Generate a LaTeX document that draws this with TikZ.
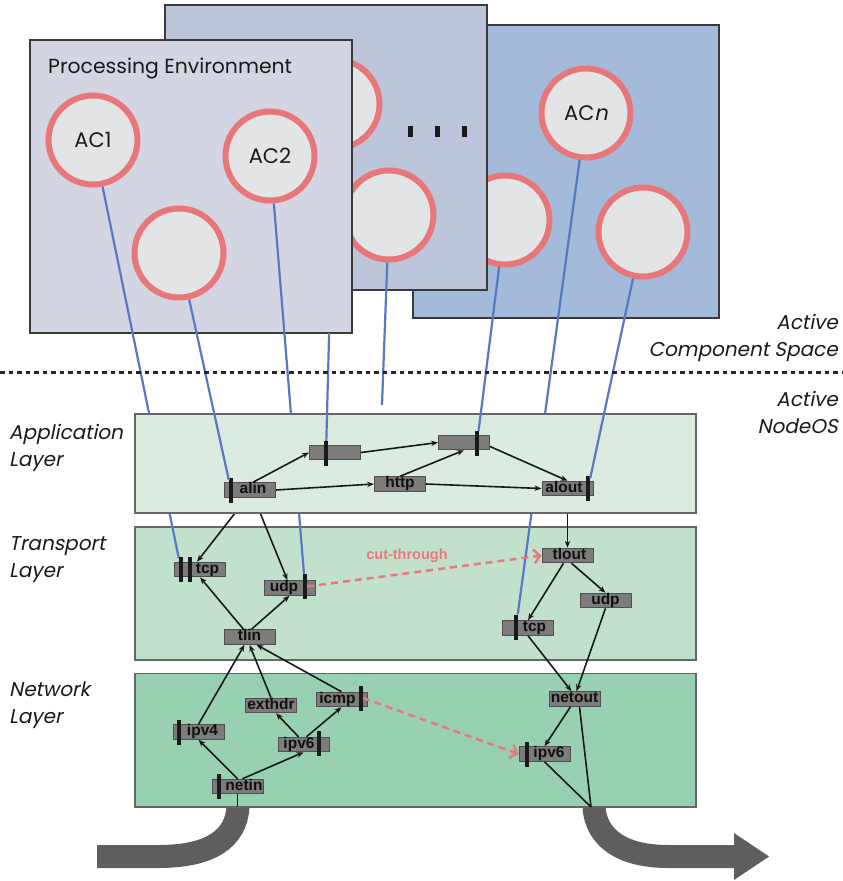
\documentclass[tikz,border=0pt]{standalone}
\usepackage{fontspec}
\setmainfont{Poppins}
\newfontfamily\modfont{Liberation Sans}
\newfontfamily\slfont[FakeSlant=0.2]{Poppins}
\usetikzlibrary{arrows.meta,calc}
\definecolor{panelF}{HTML}{D3D6E2}
\definecolor{panelM}{HTML}{BCC5DA}
\definecolor{panelR}{HTML}{A4BADB}
\definecolor{acring}{HTML}{E8777A}
\definecolor{acfill}{HTML}{E3E4E6}
\definecolor{layA}{HTML}{DCEBDF}
\definecolor{layT}{HTML}{C2E1CD}
\definecolor{layN}{HTML}{98D1B1}
\definecolor{modfill}{HTML}{7C7C7C}
\definecolor{modline}{HTML}{505050}
\definecolor{modtext}{HTML}{101010}
\definecolor{barcol}{HTML}{1A1A1A}
\definecolor{bluecol}{HTML}{5A78C2}
\definecolor{salmon}{HTML}{EB7878}
\definecolor{flowcol}{HTML}{5F5E5C}
\definecolor{layline}{HTML}{666666}
\definecolor{panline}{HTML}{3A3A3A}
\definecolor{txtcol}{HTML}{1A1A1A}
\pgfdeclarelayer{l0}
\pgfdeclarelayer{l1}
\pgfdeclarelayer{l2}
\pgfdeclarelayer{l3}
\pgfsetlayers{l0,l1,l2,l3,main}
\begin{document}
\begin{tikzpicture}[x=1pt,y=-1pt,
  layerbox/.style={draw=layline,line width=1.5pt},
  panel/.style={draw=panline,line width=1.4pt},
  ac/.style={circle,draw=acring,fill=acfill,line width=6pt,minimum size=89pt,inner sep=0pt,
    font=\fontsize{21}{21}\selectfont,text=txtcol},
  mod/.style={rectangle,draw=modline,fill=modfill,line width=1pt,minimum width=51pt,
    minimum height=14.5pt,inner sep=0pt,font=\modfont\bfseries\fontsize{15.5}{15.5}\selectfont,
    text=modtext,text height=10.5pt,text depth=3pt},
  bar/.style={rectangle,fill=barcol,minimum width=4pt,minimum height=25pt,inner sep=0pt},
  blueline/.style={draw=bluecol,line width=2.2pt},
  arr/.style={draw=black!90,line width=1.6pt,-{Stealth[length=7pt,width=5.5pt]}},
  plainline/.style={draw=black!90,line width=1.6pt},
  cut/.style={draw=salmon,line width=2.5pt,dash pattern=on 7pt off 5pt,
    -{Straight Barb[length=6pt,width=14pt]}},
  flow/.style={draw=flowcol,line width=23pt},
  side/.style={inner sep=0pt,font=\slfont\fontsize{20}{27}\selectfont,text=txtcol}]
\useasboundingbox (0,0) rectangle (843,881);

% ---------- flows ----------
\begin{pgfonlayer}{l0}
\draw[flow] (97,856.5) -- (158,856.5) .. controls (212,856.5) and (236,838) .. (238,807);
\draw[flow] (594,807) .. controls (596,838) and (622,856.5) .. (668,856.5) -- (735,856.5);
\fill[flowcol] (734,833) -- (769,856.5) -- (734,880) -- cycle;
\end{pgfonlayer}

% ---------- layers and panels ----------
\begin{pgfonlayer}{l1}
\draw[layerbox,fill=layT] (135,527) rectangle (696,660);
\draw[layerbox,fill=layN] (135,673.5) rectangle (696,807);
% right panel
\draw[panel,fill=panelR] (413,25) rectangle (719,318);
\node[ac] (r1) at (505,220) {};
\node[ac] (rn) at (586,113) {AC{\slfont n}};
\node[ac] (r2) at (643,232) {};
% middle panel
\draw[panel,fill=panelM] (165,5) rectangle (487,290);
\node[ac] (m1) at (335,104) {};
\node[ac] (m2) at (389,215) {};
\fill[barcol] (407.5,125.5) rectangle (412.5,136.5);
\fill[barcol] (434.5,125.5) rectangle (439.5,136.5);
\fill[barcol] (461.5,125.5) rectangle (466.5,136.5);
% front panel
\draw[panel,fill=panelF] (30,40) rectangle (352,333);
\node[anchor=base west,inner sep=0pt,font=\fontsize{20.4}{20.4}\selectfont,text=txtcol] (pe) at (48,73) {Processing Environment};
\node[ac] (c1) at (93,140) {AC1};
\node[ac] (c2) at (270,156) {AC2};
\node[ac] (c3) at (179,253) {};
\end{pgfonlayer}

% ---------- modules ----------
\node[mod] (alin) at (250,490) {\hspace*{6pt}alin};
\node[mod] (box1) at (335,452.5) {};
\node[mod] (http) at (400,484) {http};
\node[mod] (box2) at (464,442.5) {};
\node[mod] (alout) at (567.5,488.5) {alout\hspace*{7pt}};
\node[mod] (tcpL) at (200,569.5) {\hspace*{15pt}tcp};
\node[mod] (udpL) at (289.5,588) {udp\hspace*{11pt}};
\node[mod] (tlin) at (249.5,637) {tlin};
\node[mod] (tlout) at (567.5,555.5) {\hspace*{4pt}tlout};
\node[mod] (udpR) at (605.5,600.5) {udp};
\node[mod] (tcpR) at (528,628) {\hspace*{13pt}tcp};
\node[mod] (exthdr) at (271,705.5) {exthdr};
\node[mod] (icmp) at (341.5,699.5) {icmp\hspace*{8pt}};
\node[mod] (ipv4) at (198.5,732) {\hspace*{8pt}ipv4};
\node[mod] (ipv6L) at (303.5,744.5) {ipv6\hspace*{9pt}};
\node[mod] (netin) at (237.5,786.5) {\hspace*{13pt}netin};
\node[mod] (netout) at (574.5,699) {netout};
\node[mod] (ipv6R) at (544.5,754) {\hspace*{9pt}ipv6};
% bars
\node[bar] (alinb) at (231,490) {};
\node[bar] (box1b) at (326,453.5) {};
\node[bar] (box2b) at (477,443.5) {};
\node[bar] (aloutb) at (588,488.5) {};
\node[bar] (tcpLb1) at (181,569) {};
\node[bar] (tcpLb2) at (190,569) {};
\node[bar] (udpLb) at (305,586.5) {};
\node[bar] (tcpRb) at (516,627) {};
\node[bar] (icmpb) at (361,698) {};
\node[bar] (ipv4b) at (179,732) {};
\node[bar] (ipv6Lb) at (319,743.5) {};
\node[bar] (netinb) at (219,786) {};
\node[bar] (ipv6Rb) at (527,754) {};
\coordinate (m2end) at (382,405);
\coordinate (inpt) at (237.5,807);
\coordinate (outpt) at (591,807);

% ---------- lines hidden behind the application layer ----------
\begin{pgfonlayer}{l2}
\draw[blueline] (c1) -- (tcpLb1);
\draw[blueline] (c2) -- (udpLb);
\draw[blueline] (rn) -- (tcpRb);
\draw[arr] ([xshift=-3pt]alin.south) -- ([xshift=-3pt]tcpL.north);
\draw[arr] ([xshift=4pt]alin.south) -- ([xshift=-2pt]udpL.north);
\draw[arr] (alout.south) -- (tlout.north);
\end{pgfonlayer}
\begin{pgfonlayer}{l3}
\draw[layerbox,fill=layA] (135,414) rectangle (696,513);
\end{pgfonlayer}

% ---------- blue lines over the application layer ----------
\draw[blueline] (c3) -- (alinb);
\draw[blueline] (m2) -- (m2end);
\draw[blueline] (r1) -- (box2b);
\draw[blueline] (r2) -- (aloutb);
\begin{scope}
\clip (0,333.8) rectangle (843,881);
\draw[blueline] (m1) -- (box1b);
\end{scope}

% ---------- application arrows ----------
\draw[arr] ([xshift=3pt]alin.north) -- (box1.west);
\draw[arr] (alin.east) -- (http.west);
\draw[arr] (http.north) -- (box2.south);
\draw[arr] (box1.east) -- (box2.west);
\draw[arr] ([yshift=-4pt]box2.east) -- (alout.north);
\draw[arr] (http.east) -- (alout.west);

% ---------- transport arrows ----------
\draw[arr] ([xshift=-6pt]tlin.north) -- (tcpL.south);
\draw[arr] ([xshift=2pt]tlin.north) -- (udpL.south);
\draw[arr] ([xshift=-4pt]tlout.south) -- (tcpR.north);
\draw[arr] ([xshift=4pt]tlout.south) -- (udpR.north);
\draw[arr] (tcpR.south) -- ([xshift=-3pt]netout.north);
\draw[arr] (udpR.south) -- ([xshift=2pt]netout.north);

% ---------- network arrows ----------
\draw[arr] (ipv4.north) -- ([xshift=-5pt]tlin.south);
\draw[arr] (exthdr.north) -- (tlin.south);
\draw[arr] (icmp.north) -- ([xshift=7pt]tlin.south);
\draw[arr] (netin.north) -- (ipv4.south);
\draw[arr] ([xshift=5pt]netin.north) -- (ipv6L.south);
\draw[arr] ([xshift=-5pt]ipv6L.north) -- ([xshift=5pt]exthdr.south);
\draw[arr] ([xshift=3pt]ipv6L.north) -- (icmp.south);
\draw[plainline] (netin.south) -- (inpt);
\draw[arr] ([xshift=-4pt]netout.south) -- (ipv6R.north);
\draw[plainline] ([xshift=5pt]netout.south) -- (outpt);
\draw[plainline] (ipv6R.south) -- (outpt);

% ---------- cut-through ----------
\draw[cut] (udpLb.east) -- (tlout.west);
\draw[cut] (icmpb.east) -- (ipv6R.west);
\node[font=\modfont\bfseries\fontsize{14.5}{14.5}\selectfont,text=salmon,inner sep=0pt] (cutlbl) at (407,556) {cut-through};

% ---------- separator and side labels ----------
\draw[line width=3pt,dash pattern=on 4.5pt off 4pt,black!85] (0,372) -- (843,372);
\node[side,anchor=north east,align=right] (acs) at (838,314) {Active\\Component Space};
\node[side,anchor=north east,align=right] (anos) at (838,391) {Active\\NodeOS};
\node[side,anchor=north west,align=left] (appl) at (9,424) {Application\\Layer};
\node[side,anchor=north west,align=left] (transl) at (9,536) {Transport\\Layer};
\node[side,anchor=north west,align=left] (netl) at (9,681) {Network\\Layer};
\end{tikzpicture}
\end{document}
